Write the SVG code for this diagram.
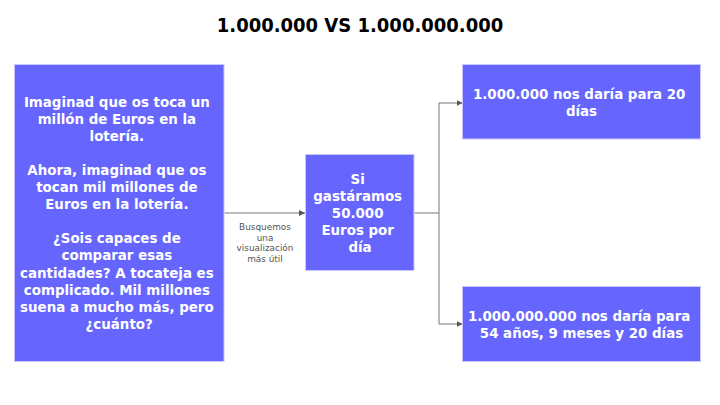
<svg xmlns="http://www.w3.org/2000/svg" width="720" height="405" viewBox="0 0 720 405">
<defs>
<style>
.box{fill:#6666ff;stroke:#c8c8ff;stroke-width:1}
.t{font-family:"DejaVu Sans","Verdana",sans-serif;font-weight:bold;font-size:13.4px;fill:#ffffff;text-anchor:middle}
.title{font-family:"DejaVu Sans Condensed","DejaVu Sans",sans-serif;font-weight:bold;font-size:20px;fill:#000000;text-anchor:middle}
.lbl{font-family:"DejaVu Sans","Verdana",sans-serif;font-size:8.9px;fill:#555555;text-anchor:middle}
.edge{fill:none;stroke:#777777;stroke-width:1}
</style>
<marker id="arr" viewBox="0 0 10 10" refX="10" refY="5" markerWidth="6" markerHeight="6" markerUnits="userSpaceOnUse" orient="auto">
<path d="M0,0 L10,5 L0,10 z" fill="#555555"/>
</marker>
</defs>
<rect width="720" height="405" fill="#ffffff"/>
<text class="title" x="360" y="31.5">1.000.000 VS 1.000.000.000</text>
<g id="connectors">
<path class="edge" d="M224.5 213 H305" marker-end="url(#arr)"/>
<path class="edge" d="M414.5 213 H439 V103 H462.5" marker-end="url(#arr)"/>
<path class="edge" d="M439 213 V324 H462.5" marker-end="url(#arr)"/>
<text class="lbl" x="265" y="230">Busquemos</text>
<text class="lbl" x="265" y="240.6">una</text>
<text class="lbl" x="265" y="251.2">visualización</text>
<text class="lbl" x="265" y="261.8">más útil</text>
</g>
<g id="node-intro">
<rect class="box" x="14.5" y="64.5" width="209.5" height="297"/>
<text class="t" x="119.2" y="106.5">
<tspan x="119.2" dy="0">Imaginad que os toca un</tspan>
<tspan x="119.2" dy="17.1">millón de Euros en la</tspan>
<tspan x="119.2" dy="17.1">lotería.</tspan>
<tspan x="119.2" dy="34.2">Ahora, imaginad que os</tspan>
<tspan x="119.2" dy="17.1">tocan mil millones de</tspan>
<tspan x="119.2" dy="17.1">Euros en la lotería.</tspan>
<tspan x="119.2" dy="34.2">¿Sois capaces de</tspan>
<tspan x="119.2" dy="17.1">comparar esas</tspan>
<tspan x="119.2" dy="17.1">cantidades? A tocateja es</tspan>
<tspan x="119.2" dy="17.1">complicado. Mil millones</tspan>
<tspan x="119.2" dy="17.1">suena a mucho más, pero</tspan>
<tspan x="119.2" dy="17.1">¿cuánto?</tspan>
</text>
</g>
<g id="node-gasto">
<rect class="box" x="305.5" y="154.5" width="108.5" height="116"/>
<text class="t" x="360" y="184">
<tspan x="360" dy="0">Si</tspan>
<tspan x="360" dy="17">gastáramos</tspan>
<tspan x="360" dy="17">50.000</tspan>
<tspan x="360" dy="17">Euros por</tspan>
<tspan x="360" dy="17">día</tspan>
</text>
</g>
<g id="node-millon">
<rect class="box" x="462.5" y="64.5" width="238" height="74.5"/>
<text class="t" x="581.5" y="99">
<tspan x="581.5" dy="0">1.000.000 nos daría para 20</tspan>
<tspan x="581.5" dy="16.7">días</tspan>
</text>
</g>
<g id="node-milmillones">
<rect class="box" x="462.5" y="286.5" width="238" height="75"/>
<text class="t" x="581.5" y="321">
<tspan x="581.5" dy="0">1.000.000.000 nos daría para</tspan>
<tspan x="581.5" dy="16.7">54 años, 9 meses y 20 días</tspan>
</text>
</g>
</svg>
